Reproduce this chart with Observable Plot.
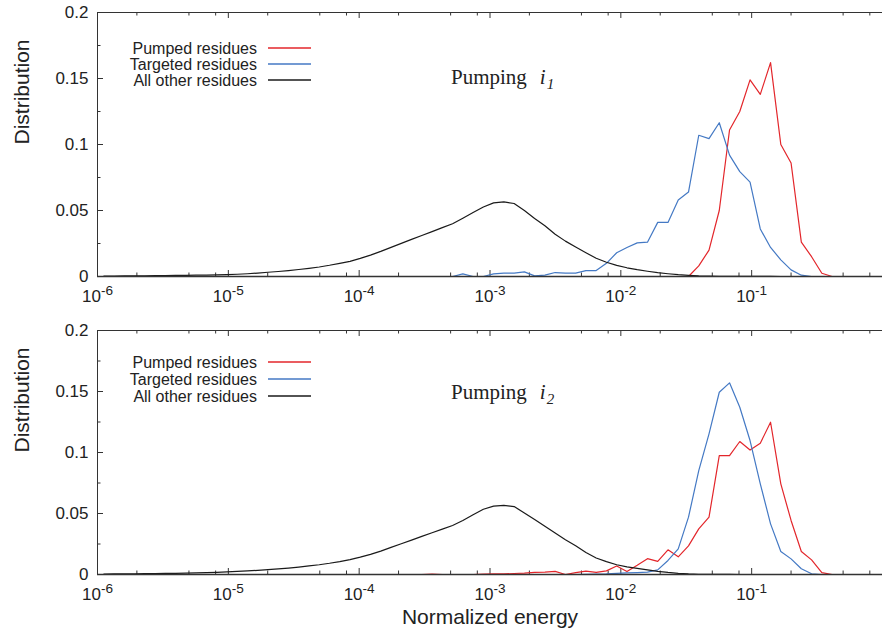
<!DOCTYPE html>
<html><head><meta charset="utf-8">
<script src="https://cdn.jsdelivr.net/npm/d3@7"></script>
<script src="https://cdn.jsdelivr.net/npm/@observablehq/plot@0.6"></script>
<style>
body{margin:0;background:#fff;}
#chart{width:882px;height:633px;}
#chart svg{display:block;}
</style></head><body><div id="chart"></div>
<script>
// Histogram bin grid (log10 of normalized energy): bin k centre = start + k*step
const binLogStart = -6.03, binLogStep = 0.0784, binCount = 76;

// Panel 1: pumping i1
const pumped1Start = 58;
const pumped1 = [0, 0.008, 0.020, 0.050, 0.111, 0.125, 0.149, 0.138, 0.162, 0.100, 0.086, 0.026, 0.015, 0.0025, 0];
const targeted1Start = 35;
const targeted1 = [0, 0.002, 0, 0, 0.002, 0.0025, 0.0025, 0.0035, 0.0005, 0.001, 0.003, 0.0025, 0.0025, 0.0045, 0.0045,
  0.010, 0.018, 0.022, 0.0255, 0.026, 0.041, 0.041, 0.058, 0.064, 0.107, 0.1045, 0.1165, 0.092, 0.0795, 0.0715,
  0.036, 0.022, 0.0126, 0.005, 0.001, 0];
const other1Start = 1;
const other1 = [0.0003,0.0003,0.0004,0.0004,0.0005,0.0006,0.0007,0.0008,0.0009,0.0010,
  0.0011,0.0012,0.0014,0.0017,0.0021,0.0026,0.0032,0.0038,0.0045,0.0053,
  0.0062,0.0072,0.0085,0.0100,0.0115,0.0137,0.0162,0.0190,0.0221,0.0251,
  0.0281,0.0311,0.0340,0.0370,0.0400,0.0442,0.0485,0.0527,0.0558,0.0565,
  0.0553,0.0500,0.0440,0.0385,0.0320,0.0268,0.0223,0.0180,0.0138,0.0108,
  0.0084,0.0066,0.0052,0.0040,0.0029,0.0021,0.0014,0.0009,0.0005,0.0003,
  0.0002,0.0001,0.0001,0.0001,0.0001,0.0001];

// Panel 2: pumping i2
const pumped2Start = 33;
const pumped2 = [0.0004, 0, 0, 0, 0, 0.0003, 0.0005, 0.0005, 0.0008, 0.0012,
  0.0018, 0.002, 0.0025, 0, 0.0015, 0.0028, 0.0018, 0.003, 0.007, 0.0025,
  0.0075, 0.013, 0.0107, 0.0202, 0.0145, 0.0235, 0.0374, 0.047, 0.0975, 0.0975,
  0.109, 0.102, 0.1076, 0.1248, 0.0743, 0.0443, 0.0189, 0.012, 0.0016, 0];
const targeted2Start = 48;
const targeted2 = [0.0002, 0.0004, 0.0006, 0.001, 0.0013, 0.0016, 0.0019, 0.0038, 0.0115, 0.021,
  0.047, 0.0852, 0.1153, 0.1494, 0.1571, 0.1371, 0.1098, 0.0743, 0.0415, 0.0189,
  0.0128, 0.0047, 0.0006, 0];
const other2Start = 1;
const other2 = [0.0004,0.0005,0.0005,0.0006,0.0007,0.0008,0.0009,0.0010,0.0012,0.0014,
  0.0016,0.0018,0.0021,0.0025,0.0029,0.0034,0.0040,0.0046,0.0053,0.0061,
  0.0070,0.0080,0.0092,0.0106,0.0122,0.0142,0.0165,0.0192,0.0222,0.0252,
  0.0282,0.0312,0.0342,0.0372,0.0402,0.0442,0.0490,0.0535,0.0560,0.0566,
  0.0557,0.0505,0.0450,0.0395,0.0340,0.0285,0.0235,0.0180,0.0135,0.0105,
  0.0080,0.0062,0.0050,0.0038,0.0026,0.0017,0.0010,0.0005,0.0002,0.0001,
  0.0001,0.0001];

const seriesNames = ["Pumped residues", "Targeted residues", "All other residues"];
const seriesColors = ["#e3262b", "#4479c4", "#1a1a1a"];
const yMajor = [0, 0.05, 0.1, 0.15, 0.2];
const yMinor = [0.025, 0.075, 0.125, 0.175];
const xMajor = [1e-6, 1e-5, 1e-4, 1e-3, 1e-2, 1e-1];
const xMinorMultipliers = [2, 5, 8];
const xLabel = "Normalized energy";
const yLabel = "Distribution";

const xMinor = xMajor.flatMap(d => xMinorMultipliers.map(m => d * m));

function buildRows(start, values, name) {
  const rows = [];
  for (let k = 1; k <= binCount; k++) {
    const i = k - start;
    rows.push({energy: Math.pow(10, binLogStart + binLogStep * k),
      value: (i >= 0 && i < values.length) ? values[i] : 0, series: name});
  }
  return rows;
}

const W = 882, ML = 97, MR = 0;
const sans = "'Liberation Sans', Arial, Helvetica, sans-serif";
const serif = "'Liberation Serif', 'Times New Roman', serif";

function panel(opts) {
  const {height, marginTop, marginBottom, data, sub, legendYs, titleBaseline, showXLabel} = opts;
  const plotH = height - marginTop - marginBottom;
  const plotW = W - ML - MR;
  const axisColor = "#333";
  const marks = [
    Plot.ruleX(xMinor, {insetTop: plotH - 3.5, stroke: axisColor}),
    Plot.ruleX(xMinor, {insetBottom: plotH - 3.5, stroke: axisColor}),
    Plot.ruleX(xMajor, {insetTop: plotH - 6, stroke: axisColor}),
    Plot.ruleX(xMajor, {insetBottom: plotH - 6, stroke: axisColor}),
    Plot.ruleY(yMinor, {insetRight: plotW - 3.5, stroke: axisColor}),
    Plot.ruleY(yMajor, {insetRight: plotW - 6, stroke: axisColor}),
    Plot.axisY(yMajor, {tickSize: 0, tickPadding: 9, label: null, fontSize: 17,
      tickFormat: d => d === 0 ? "0" : String(+d.toFixed(3))}),
    Plot.axisX(xMajor, {tickSize: 0, tickPadding: 13, label: null, fontSize: 17,
      tickFormat: d => String(Math.round(Math.log10(d)))}),
    Plot.text([yLabel], {frameAnchor: "left", dx: -75, rotate: -90, fontSize: 21, fill: "#222", lineAnchor: "middle"}),
  ];
  if (showXLabel) marks.push(Plot.text([xLabel], {frameAnchor: "bottom", dy: 43, fontSize: 21, fill: "#222", lineAnchor: "middle"}));
  data.forEach((rows, i) => {
    marks.push(Plot.line(rows, {x: "energy", y: "value", stroke: seriesColors[i], strokeWidth: 1.2}));
  });
  marks.push(Plot.ruleY([0], {stroke: axisColor, strokeWidth: 1.3}));
  marks.push(Plot.ruleY([0.2], {stroke: axisColor}));
  marks.push(Plot.ruleX([1e-6], {stroke: axisColor}));

  const svg = Plot.plot({
    width: W, height, marginLeft: ML, marginRight: MR, marginTop, marginBottom,
    style: {fontFamily: sans, background: "white", color: "#222", overflow: "visible"},
    x: {type: "log", domain: [1e-6, 1]},
    y: {domain: [0, 0.2]},
    marks
  });
  const s = d3.select(svg);
  // superscript exponents on x tick labels
  s.selectAll('g[aria-label="x-axis tick label"] text').each(function() {
    const e = this.textContent;
    const t = d3.select(this);
    t.text("");
    t.append("tspan").text("10");
    t.append("tspan").attr("dy", "-0.45em").attr("font-size", "0.8em").text(e);
  });
  // legend
  const lg = s.append("g").attr("font-family", sans).attr("font-size", 16);
  seriesNames.forEach((name, i) => {
    const y = Math.round(marginTop + legendYs[i]);
    lg.append("text").attr("x", 257).attr("y", y).attr("dy", "0.35em")
      .attr("text-anchor", "end").style("fill", "#222").text(name);
    lg.append("path").attr("d", `M268,${y}H311`)
      .style("stroke", seriesColors[i]).style("stroke-width", "1.3px").style("fill", "none");
  });
  // title
  const tt = s.append("text").attr("x", 451).attr("y", titleBaseline).attr("text-anchor", "start")
    .attr("font-family", serif).attr("font-size", 21).style("fill", "#222");
  tt.append("tspan").text("Pumping");
  tt.append("tspan").attr("dx", 13).attr("font-style", "italic").text("i");
  tt.append("tspan").attr("dx", 1).attr("dy", 5).attr("font-style", "italic").attr("font-size", 15).text(sub);
  return svg;
}

const chart = document.getElementById("chart");
chart.appendChild(panel({
  height: 306, marginTop: 12, marginBottom: 30,
  data: [buildRows(pumped1Start, pumped1, seriesNames[0]), buildRows(targeted1Start, targeted1, seriesNames[1]), buildRows(other1Start, other1, seriesNames[2])],
  sub: "1", legendYs: [35.5, 51.5, 67.5], titleBaseline: 84, showXLabel: false
}));
chart.appendChild(panel({
  height: 327, marginTop: 24, marginBottom: 59,
  data: [buildRows(pumped2Start, pumped2, seriesNames[0]), buildRows(targeted2Start, targeted2, seriesNames[1]), buildRows(other2Start, other2, seriesNames[2])],
  sub: "2", legendYs: [32, 49, 66], titleBaseline: 93, showXLabel: true
}));
</script>
</body></html>
